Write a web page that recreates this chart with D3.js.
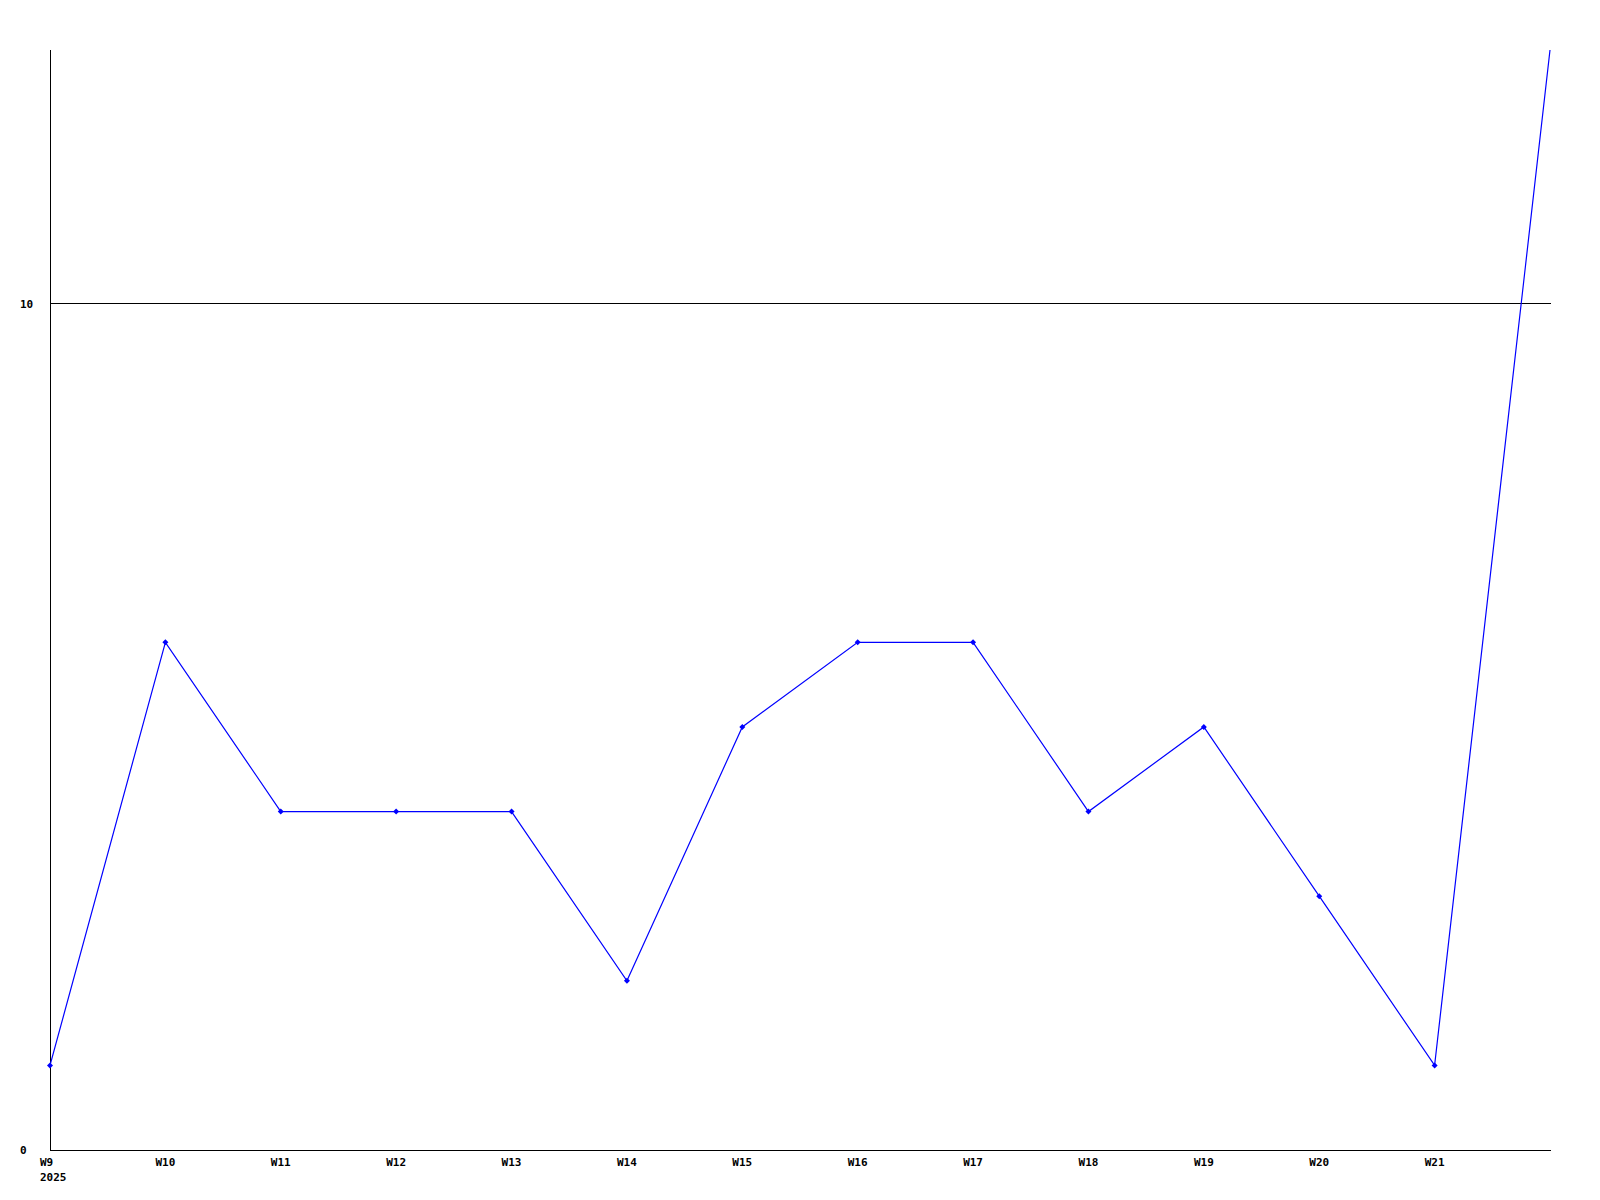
<!DOCTYPE html>
<html>
<head>
<meta charset="utf-8">
<script src="https://cdn.jsdelivr.net/npm/d3@7"></script>
<style>
  html, body { margin: 0; padding: 0; background: #fff; }
  svg { display: block; }
  text { font-family: "DejaVu Sans Mono", "Liberation Mono", monospace; font-weight: bold; font-size: 11px; fill: #000; }
</style>
</head>
<body>
<svg id="chart" width="1600" height="1200"></svg>
<script>
const weeks = ["W9","W10","W11","W12","W13","W14","W15","W16","W17","W18","W19","W20","W21","W22"];
const values = [1, 6, 4, 4, 4, 2, 5, 6, 6, 4, 5, 3, 1, 13];
const xTickLabels = ["W9","W10","W11","W12","W13","W14","W15","W16","W17","W18","W19","W20","W21"];
const yearLabel = "2025";
const yTicks = [0, 10];
const yMax = 13;

(function () {
const svg = d3.select("#chart");
const mLeft = 50, mRight = 1550, mTop = 50, mBottom = 1150, axisEnd = 1551;

const x = d3.scalePoint().domain(weeks).range([mLeft, mRight]);
const y = d3.scaleLinear().domain([0, yMax]).range([mBottom, mTop]);

// gridline at 10
svg.append("g").selectAll("line")
  .data(yTicks.filter(t => t > 0))
  .join("line")
  .attr("x1", mLeft).attr("x2", axisEnd)
  .attr("y1", d => Math.round(y(d)) - 0.5).attr("y2", d => Math.round(y(d)) - 0.5)
  .attr("stroke", "#000").attr("stroke-width", 1).attr("shape-rendering", "crispEdges");

// axes lines
svg.append("line").attr("x1", mLeft + 0.5).attr("x2", mLeft + 0.5).attr("y1", mTop).attr("y2", mBottom + 0.5)
  .attr("stroke", "#000").attr("shape-rendering", "crispEdges");
svg.append("line").attr("x1", mLeft).attr("x2", axisEnd).attr("y1", mBottom + 0.5).attr("y2", mBottom + 0.5)
  .attr("stroke", "#000").attr("shape-rendering", "crispEdges");

// y labels
svg.append("g").selectAll("text")
  .data(yTicks)
  .join("text")
  .attr("x", 20)
  .attr("y", d => y(d))
  .attr("dy", "0.35em")
  .text(d => d);

// x labels
svg.append("g").selectAll("text")
  .data(xTickLabels)
  .join("text")
  .attr("x", (d, i) => i === 0 ? 40 : x(d))
  .attr("y", mBottom + 16)
  .attr("text-anchor", (d, i) => i === 0 ? "start" : "middle")
  .text(d => d);
svg.append("text").attr("x", 40).attr("y", mBottom + 31).text(yearLabel);

// line
const data = weeks.map((w, i) => ({ w, v: values[i] }));
const line = d3.line().x(d => x(d.w)).y(d => y(d.v));
svg.append("path").datum(data)
  .attr("d", line)
  .attr("fill", "none").attr("stroke", "#0000ff").attr("stroke-width", 1.2);

// markers (small diamonds)
svg.append("g").selectAll("path")
  .data(data.slice(0, -1))
  .join("path")
  .attr("transform", d => `translate(${x(d.w)},${y(d.v)})`)
  .attr("d", "M0,-3L3,0L0,3L-3,0Z")
  .attr("fill", "#0000ff");
})();
</script>
</body>
</html>
